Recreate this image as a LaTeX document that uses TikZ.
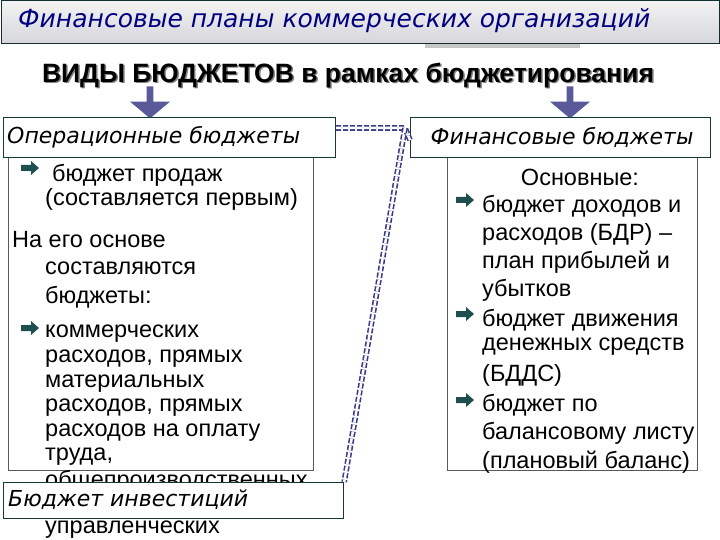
\documentclass[tikz,border=0pt]{standalone}
\usepackage{fontspec}
\setmainfont{Liberation Sans}
\newfontfamily\itf{DejaVu Sans}
\usetikzlibrary{shapes.arrows}
\definecolor{arr}{HTML}{5A5A9A}
\definecolor{teal}{HTML}{1F4E4E}
\definecolor{dash}{HTML}{3A3A8A}
\tikzset{
 hdr/.style={draw=teal!70!black,line width=1.2pt,fill=white,inner sep=0pt},
 cont/.style={draw=gray!70!black,line width=0.6pt,fill=white},
 tx/.style={anchor=west,font=\fontsize{23.5}{25}\selectfont,inner sep=0pt},
 hf/.style={font=\itf\itshape\fontsize{22}{24}\selectfont,inner sep=0pt},
 bigarr/.style={single arrow,draw=none,fill=arr,shape border rotate=270,minimum width=40pt,single arrow head extend=11pt,single arrow tip angle=100,minimum height=32pt,inner sep=2pt},
 dl/.style={draw=dash,double=white,double distance=2.5pt,line width=1.6pt,dash pattern=on 5pt off 2pt}
}
\newcommand\bull[2]{\fill[teal] (#1-9,#2-3) -- (#1+1,#2-3) -- (#1+1,#2-7) -- (#1+9,#2) -- (#1+1,#2+7) -- (#1+1,#2+3) -- (#1-9,#2+3) -- cycle;}
\begin{document}
\begin{tikzpicture}[x=1pt,y=-1pt]
\useasboundingbox (0,0) rectangle (720,540);
\fill[white] (0,0) rectangle (720,540);
\shade[top color=gray!10,bottom color=blue!8!gray!30,draw=teal!60!black,line width=1pt] (1,1) rectangle (719,44);
\fill[gray!45] (425,44) rectangle (580,48);
\node[anchor=west,font=\itf\itshape\fontsize{25}{27}\selectfont,text=blue!50!black,inner sep=0pt] (title) at (18,21) {Финансовые планы коммерческих организаций};
\node[font=\bfseries\fontsize{26.5}{28}\selectfont,text=gray] at (349.5,77) {ВИДЫ БЮДЖЕТОВ в рамках бюджетирования};
\node[font=\bfseries\fontsize{26.5}{28}\selectfont] (sub) at (348,75.5) {ВИДЫ БЮДЖЕТОВ в рамках бюджетирования};
\node[bigarr] (a1) at (150,101) {};
\node[bigarr] (a2) at (570,101) {};
% content boxes
\node[cont,minimum width=305pt,minimum height=313pt,anchor=north west] (opc) at (8,157) {};
\node[cont,minimum width=250pt,minimum height=313pt,anchor=north west] (finc) at (447,157) {};
% left text
\bull{30}{168}
\node[tx] at (52,175) {бюджет продаж};
\node[tx] at (45,199) {(составляется первым)};
\node[tx] at (12,240) {На его основе};
\node[tx] at (45,268) {составляются};
\node[tx] at (45,297) {бюджеты:};
\bull{30}{328}
\foreach \t [count=\i from 0] in {коммерческих,{расходов, прямых},материальных,{расходов, прямых},расходов на оплату,{труда,},общепроизводственных}
  \node[tx] at (45,334+24.6*\i) {\t};
\node[tx] at (45,530) {управленческих};
% right text
\node[font=\fontsize{23.5}{25}\selectfont,inner sep=0pt] at (580,177) {Основные:};
\bull{465}{200}\bull{465}{314}\bull{465}{400}
\foreach \t/\y in {бюджет доходов и/206,расходов (БДР) –/234,план прибылей и/262,убытков/290,бюджет движения/320,денежных средств/347,(БДДС)/375,бюджет по/405,балансовому листу/433,(плановый баланс)/462}
  \node[tx] at (482,\y) {\t};
% headers
\node[hdr,minimum width=332pt,minimum height=40pt,anchor=north west] (op) at (3,117) {};
\node[hf,anchor=west] at (7,137) {Операционные бюджеты};
\node[hdr,minimum width=300pt,minimum height=40pt,anchor=north west] (fin) at (410,117) {};
\node[hf] at (562,137) {Финансовые бюджеты};
\node[hdr,minimum width=340pt,minimum height=36pt,anchor=north west] (inv) at (3,482) {};
\node[hf,anchor=west] at (8,500) {Бюджет инвестиций};
% dashed connectors
\coordinate (k) at (405,128);
\draw[dl] (op.east |- k) -- (k) -- (fin.west |- 0,140);
\draw[dl] (k) -- (inv.north east);
\end{tikzpicture}
\end{document}
